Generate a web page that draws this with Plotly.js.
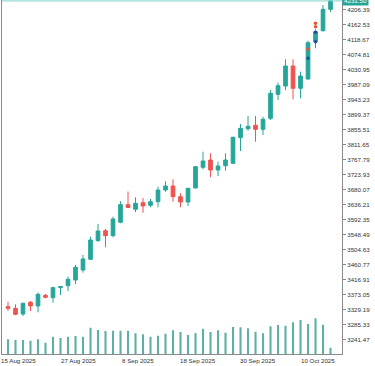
<!DOCTYPE html>
<html>
<head>
<meta charset="utf-8">
<script src="https://cdn.plot.ly/plotly-3.0.1.min.js"></script>
<style>html,body{margin:0;padding:0;background:#fff;}#chart{width:375px;height:366px;}</style>
</head>
<body>
<div id="chart"></div>
<script>
const dates = ["2025-08-14","2025-08-15","2025-08-18","2025-08-19","2025-08-20","2025-08-21","2025-08-22",
  "2025-08-25","2025-08-26","2025-08-27","2025-08-28","2025-08-29","2025-09-01","2025-09-02","2025-09-03",
  "2025-09-04","2025-09-05","2025-09-08","2025-09-09","2025-09-10","2025-09-11","2025-09-12","2025-09-15",
  "2025-09-16","2025-09-17","2025-09-18","2025-09-19","2025-09-22","2025-09-23","2025-09-24","2025-09-25",
  "2025-09-26","2025-09-29","2025-09-30","2025-10-01","2025-10-02","2025-10-03","2025-10-06","2025-10-07",
  "2025-10-08","2025-10-09","2025-10-10","2025-10-13","2025-10-14"];
const openP = [3337.4,3332.7,3316.0,3350.3,3339.5,3370.7,3363.7,3393.0,3398.8,3415.5,3444.7,3476.0,3530.4,3559.6,3545.0,
  3584.2,3635.7,3622.2,3641.5,3633.8,3644.4,3678.6,3690.3,3659.1,3643.5,3684.5,3745.0,3766.3,3737.1,3749.6,3756.7,
  3831.6,3857.8,3867.8,3856.1,3888.3,3958.4,3982.7,4041.2,3976.0,4003.2,4112.2,4144.4,4206.9];
const highP = [3352.0,3344.4,3349.1,3354.0,3378.3,3374.5,3395.9,3397.9,3425.1,3459.3,3488.6,3542.0,3579.2,3564.6,3600.5,
  3645.6,3674.2,3657.3,3655.0,3652.3,3688.3,3704.0,3709.9,3668.9,3684.5,3748.8,3790.6,3785.9,3761.4,3785.9,3834.5,
  3871.6,3895.0,3895.0,3893.0,3971.0,3992.4,4060.8,4060.8,4024.5,4115.2,4148.5,4219.6,4240.0];
const lowP = [3324.8,3312.2,3310.2,3324.8,3321.0,3361.9,3349.1,3371.6,3383.3,3403.7,3436.8,3473.9,3527.4,3511.1,3540.3,
  3581.2,3626.0,3614.3,3612.2,3628.0,3628.0,3673.6,3644.4,3628.0,3631.8,3683.6,3739.1,3715.7,3719.5,3735.0,3755.5,
  3792.6,3852.0,3819.8,3839.4,3883.3,3941.8,3971.0,3943.8,3946.7,4001.0,4092.9,4142.0,4199.1];
const closeP = [3332.7,3315.2,3347.3,3339.5,3373.7,3364.9,3393.0,3395.9,3417.5,3452.6,3476.9,3532.4,3558.7,3545.0,3593.8,
  3635.7,3627.5,3639.7,3631.8,3644.4,3678.6,3690.3,3659.1,3643.5,3683.6,3746.8,3763.4,3737.1,3748.8,3766.3,3832.7,
  3859.0,3864.9,3856.1,3885.3,3961.4,3983.6,4041.2,3976.0,4011.9,4109.3,4141.5,4206.9,4231.5];
const volume = [118000,112000,112000,106000,118000,90000,138000,128000,138000,144000,138000,210000,192000,184000,186000,
  186000,186000,166000,158000,138000,146000,162000,190000,176000,152000,168000,202000,176000,190000,170000,216000,
  214000,206000,178000,166000,222000,232000,226000,254000,272000,240000,286000,234000,50000];
const tickDates = ["2025-08-15","2025-08-27","2025-09-08","2025-09-18","2025-09-30","2025-10-10"];
const tickDateLabels = ["15 Aug 2025","27 Aug 2025","8 Sep 2025","18 Sep 2025","30 Sep 2025","10 Oct 2025"];
const priceTicks = [3241.47,3285.33,3329.19,3373.05,3416.91,3460.77,3504.63,3548.49,3592.35,3636.21,3680.07,3723.93,
  3767.79,3811.65,3855.51,3899.37,3943.23,3987.09,4030.95,4074.81,4118.67,4162.53,4206.39];
const sellMarkX = ["2025-10-09","2025-10-10","2025-10-10"];
const sellMarkY = [4090.0,4166.0,4156.1];
const buyMarkX = ["2025-10-09","2025-10-10","2025-10-10"];
const buyMarkY = [4063.7,4139.7,4112.2];
const lastPrice = 4231.5;

const green = '#26a69a', red = '#ef5350';
const traces = [
  {type:'bar', x:dates, y:volume, yaxis:'y2', width:0.28, marker:{color:'#5fb0a4'}, hoverinfo:'skip'},
  {type:'candlestick', x:dates, open:openP, high:highP, low:lowP, close:closeP,
   increasing:{line:{color:green,width:1}, fillcolor:green},
   decreasing:{line:{color:red,width:1}, fillcolor:red}, whiskerwidth:0},
  {type:'scatter', mode:'markers', x:sellMarkX, y:sellMarkY, marker:{color:'#e4572e', size:3.5}},
  {type:'scatter', mode:'markers', x:buyMarkX, y:buyMarkY, marker:{color:'#1f4f9e', size:3.5}}
];
const dateAnnotations = tickDates.map((d, i) => ({
  xref:'x', x:d, yref:'paper', y:0, yanchor:'top', xanchor:'center', xshift:2.5, yshift:-1,
  text:tickDateLabels[i], showarrow:false, font:{size:6.2, color:'#333'}
}));
const layout = {
  width:375, height:366, showlegend:false,
  margin:{l:2, r:33, t:0, b:12, pad:0},
  paper_bgcolor:'#fff', plot_bgcolor:'#fff',
  font:{family:'Liberation Sans, Arial, sans-serif', size:6.2, color:'#333'},
  xaxis:{type:'category', categoryarray:dates, range:[-0.8, 44.53], rangeslider:{visible:false}, showgrid:false, zeroline:false,
    showline:true, linecolor:'#8a8a8a', linewidth:1, ticks:'', showticklabels:false, fixedrange:true},
  yaxis:{side:'right', range:[3199.07, 4234.17], showgrid:false, zeroline:false, showline:true, mirror:true,
    linecolor:'#8a8a8a', linewidth:1, ticks:'outside', ticklen:3, tickcolor:'#8a8a8a', tickvals:priceTicks,
    tickformat:'.2f', tickfont:{size:6.2, color:'#333'}},
  yaxis2:{overlaying:'y', side:'right', range:[0, 2832000], visible:false, showgrid:false, zeroline:false},
  shapes:[{type:'line', xref:'paper', x0:0, x1:1, yref:'y', y0:lastPrice, y1:lastPrice, line:{color:'#7fd3cb', width:1}}],
  annotations:dateAnnotations.concat([{xref:'paper', x:1, xanchor:'left', yref:'y', y:lastPrice, yanchor:'middle', text:lastPrice.toFixed(2),
    showarrow:false, bgcolor:'#26a69a', font:{color:'#fff', size:6.2}, borderpad:1}])
};
Plotly.newPlot('chart', traces, layout, {staticPlot:true, displayModeBar:false});
</script>
</body>
</html>
